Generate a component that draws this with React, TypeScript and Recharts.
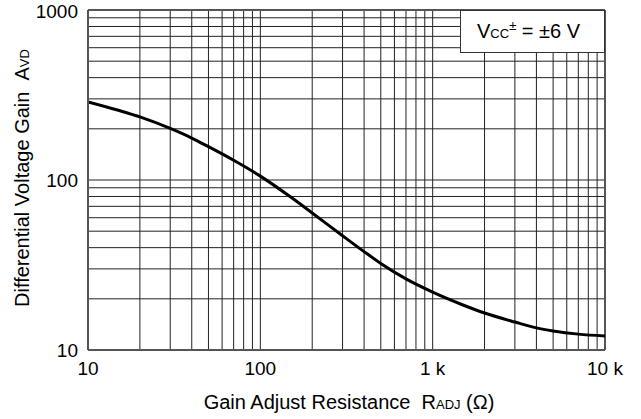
import React from "react";
import { LineChart, Line, XAxis, YAxis, ReferenceLine, Label } from "recharts";

// gain adjust resistance (ohm) vs differential voltage gain
const resistance = [10, 15, 20, 30, 40, 50, 70, 100, 150, 200, 300, 400, 500, 700, 1000, 1500, 2000, 3000, 4000, 5000, 7000, 10000];
const gain = [288, 257, 235, 201, 176.5, 157, 130.6, 105.4, 79.4, 64, 47, 37.9, 32.3, 26.2, 21.9, 18.4, 16.5, 14.6, 13.5, 12.95, 12.4, 12.1];

const xTicks = [10, 100, 1000, 10000];
const yTicks = [10, 100, 1000];
const xGrid = [20, 30, 40, 50, 60, 70, 80, 90, 100, 200, 300, 400, 500, 600, 700, 800, 900, 1000, 2000, 3000, 4000, 5000, 6000, 7000, 8000, 9000];
const yGrid = [20, 30, 40, 50, 60, 70, 80, 90, 100, 200, 300, 400, 500, 600, 700, 800, 900];

const data = resistance.map((r, i) => ({ r, gain: gain[i] }));

const font = "Arial, 'Liberation Sans', sans-serif";
const fmtX = (v: number) => (v >= 1000 ? `${v / 1000} k` : `${v}`);

const YTitle = () => (
  <text x={29} y={178} transform="rotate(-90 29 178)" textAnchor="middle" fontSize={20} fontFamily={font} fill="#000">
    Differential Voltage Gain{"\u00a0\u00a0"}A<tspan fontSize={13}>VD</tspan>
  </text>
);

const XTitle = () => (
  <text x={349} y={409} textAnchor="middle" fontSize={20} fontFamily={font} fill="#000">
    Gain Adjust Resistance{"\u00a0\u00a0"}R<tspan fontSize={13}>ADJ</tspan> (Ω)
  </text>
);

export default function App() {
  return (
    <div style={{ position: "absolute", left: 0, top: 0, width: 641, height: 419, background: "#fff" }}>
      <LineChart width={641} height={419} data={data} margin={{ top: 10, right: 36, left: 28, bottom: 39 }}>
        {xGrid.map((v) => (
          <ReferenceLine key={`x${v}`} x={v} stroke="#222" strokeWidth={1} />
        ))}
        {yGrid.map((v) => (
          <ReferenceLine key={`y${v}`} y={v} stroke="#222" strokeWidth={1} />
        ))}
        <XAxis
          dataKey="r"
          type="number"
          scale="log"
          domain={[10, 10000]}
          ticks={xTicks}
          tickFormatter={fmtX}
          allowDataOverflow
          height={30}
          tickLine={false}
          tickSize={0}
          tickMargin={12}
          axisLine={{ stroke: "#555", strokeWidth: 2 }}
          tick={{ fill: "#000", fontSize: 19, fontFamily: font }}
        >
          <Label content={XTitle} />
        </XAxis>
        <YAxis
          type="number"
          scale="log"
          domain={[10, 1000]}
          ticks={yTicks}
          allowDataOverflow
          width={60}
          tickLine={false}
          tickSize={0}
          tickMargin={10}
          axisLine={{ stroke: "#555", strokeWidth: 2 }}
          tick={{ fill: "#000", fontSize: 19, fontFamily: font }}
        >
          <Label content={YTitle} />
        </YAxis>
        <ReferenceLine y={1000} stroke="#555" strokeWidth={2} />
        <ReferenceLine x={10000} stroke="#555" strokeWidth={2} />
        <Line dataKey="gain" type="monotone" stroke="#000" strokeWidth={3} dot={false} isAnimationActive={false} />
      </LineChart>
      <div
        style={{
          position: "absolute",
          left: 460,
          top: 10,
          width: 145,
          height: 43,
          boxSizing: "border-box",
          border: "1px solid #333",
          background: "#fff",
          fontFamily: font,
          fontSize: 20,
          lineHeight: "41px",
          paddingLeft: 16,
          color: "#000",
          whiteSpace: "nowrap",
        }}
      >
        V<span style={{ fontSize: 13 }}>CC</span>
        <sup style={{ fontSize: 13, lineHeight: 0 }}>±</sup> = ±6 V
      </div>
    </div>
  );
}
